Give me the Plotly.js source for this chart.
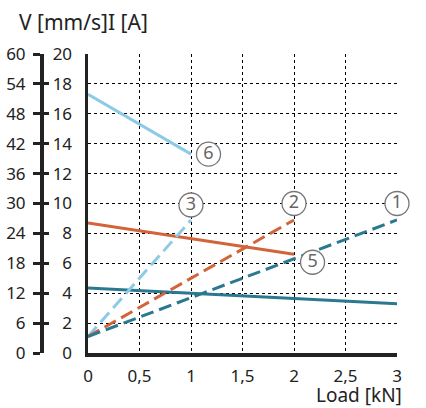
<!DOCTYPE html>
<html><head><meta charset="utf-8">
<script src="https://cdn.plot.ly/plotly-3.0.1.min.js"></script>
<style>html,body{margin:0;padding:0;background:#fff}#chart{width:426px;height:408px}</style>
</head><body><div id="chart"></div>
<script>
// Load [kN]
const load1 = [0, 3];
const current1 = [1.1, 8.9];        // (1) dashed teal
const load2 = [0, 2];
const current2 = [1.1, 8.9];        // (2) dashed orange
const load3 = [0, 1];
const current3 = [1.1, 8.9];        // (3) dashed light blue
const load4 = [0, 1, 2, 3];
const current4 = [4.35, 4.0, 3.7, 3.3]; // (4) solid teal
const load5 = [0, 2];
const current5 = [8.7, 6.6];        // (5) solid orange
const load6 = [0, 1];
const current6 = [17.3, 13.3];      // (6) solid light blue

const labelText = ['1', '2', '3', '4', '5', '6'];
const labelX = [3.0, 2.0, 1.0, 3.13, 2.18, 1.17];
const labelY = [10.0, 10.0, 9.9, 3.33, 6.07, 13.3];

const iTicks = [0, 2, 4, 6, 8, 10, 12, 14, 16, 18, 20];
const vTicks = [0, 6, 12, 18, 24, 30, 36, 42, 48, 54, 60];
const xTicks = [0, 0.5, 1, 1.5, 2, 2.5, 3];
const xTickText = ['0', '0,5', '1', '1,5', '2', '2,5', '3'];

const teal = '#2b7891', orange = '#d2643a', sky = '#8dcae6';
const dash = '13px,6px';
function ln(x, y, color, d) {
  return {x: x, y: y, type: 'scatter', mode: 'lines', cliponaxis: false,
    line: {color: color, width: 3, dash: d || 'solid'}, hoverinfo: 'skip', showlegend: false};
}
const traces = [
  ln(load4, current4, teal),
  ln(load5, current5, orange),
  ln(load6, current6, sky),
  ln(load3, current3, sky, dash),
  ln(load2, current2, orange, dash),
  ln(load1, current1, teal, dash),
  {x: labelX, y: labelY, text: labelText, type: 'scatter', mode: 'markers+text',
   textposition: 'middle center', cliponaxis: false, showlegend: false, hoverinfo: 'skip',
   marker: {symbol: 'circle', size: 24, color: '#fff', line: {color: '#777', width: 1.3}},
   textfont: {family: 'Noto Sans', size: 18, color: '#666'}},
  // invisible traces to activate the V axis
  {x: [0], y: [0], yaxis: 'y2', type: 'scatter', mode: 'markers', marker: {opacity: 0}, showlegend: false, hoverinfo: 'skip'},
  {x: [0], y: [0], yaxis: 'y3', type: 'scatter', mode: 'markers', marker: {opacity: 0}, showlegend: false, hoverinfo: 'skip'}
];

const L = 30, R = 29, W = 426;
const pw = W - L - R;
const dom0 = (88 - L) / pw;
const vPos = (41 - L) / pw;
const font = {family: 'Noto Sans', size: 17, color: '#222'};

const layout = {
  width: 426, height: 408,
  margin: {l: L, r: R, t: 54, b: 55},
  paper_bgcolor: '#fff', plot_bgcolor: '#fff',
  font: font,
  showlegend: false,
  xaxis: {domain: [dom0, 1], range: [0, 3], tickvals: xTicks, ticktext: xTickText,
    showgrid: true, gridcolor: '#000', griddash: 'dot', gridwidth: 1,
    showline: true, linecolor: '#222', linewidth: 3.5, zeroline: false, ticks: '',
    ticklabelstandoff: 5, tickfont: font, fixedrange: true},
  yaxis: {range: [0, 20], tickvals: iTicks, showgrid: true, gridcolor: '#000', griddash: 'dot', gridwidth: 1,
    showline: true, linecolor: '#222', linewidth: 3.5, zeroline: false, ticks: '',
    ticklabelstandoff: 9, tickfont: font, fixedrange: true},
  yaxis2: {range: [0, 60], tickvals: vTicks, overlaying: 'y', anchor: 'free', position: vPos, side: 'left',
    showgrid: false, zeroline: false, showline: true, linecolor: '#222', linewidth: 3.5,
    ticks: 'outside', ticklen: 7, tickwidth: 3, tickcolor: '#222', ticklabelstandoff: 4, tickfont: font, fixedrange: true},
  yaxis3: {range: [0, 60], tickvals: vTicks, overlaying: 'y', anchor: 'free', position: vPos, side: 'left',
    showgrid: false, zeroline: false, showline: false, showticklabels: false,
    ticks: 'inside', ticklen: 7, tickwidth: 3, tickcolor: '#222', fixedrange: true},
  annotations: [
    {text: 'V [mm/s]I [A]', xref: 'paper', yref: 'paper', x: (17 - L) / pw, y: 1, yshift: 32,
     xanchor: 'left', yanchor: 'middle', showarrow: false, font: {family: 'Noto Sans', size: 21, color: '#222'}},
    {text: 'Load [kN]', xref: 'paper', yref: 'paper', x: (404 - L) / pw, y: 0, yshift: -42,
     xanchor: 'right', yanchor: 'middle', showarrow: false, font: {family: 'Noto Sans', size: 19, color: '#222'}}
  ]
};
Plotly.newPlot('chart', traces, layout, {displayModeBar: false, staticPlot: true});
</script></body></html>
